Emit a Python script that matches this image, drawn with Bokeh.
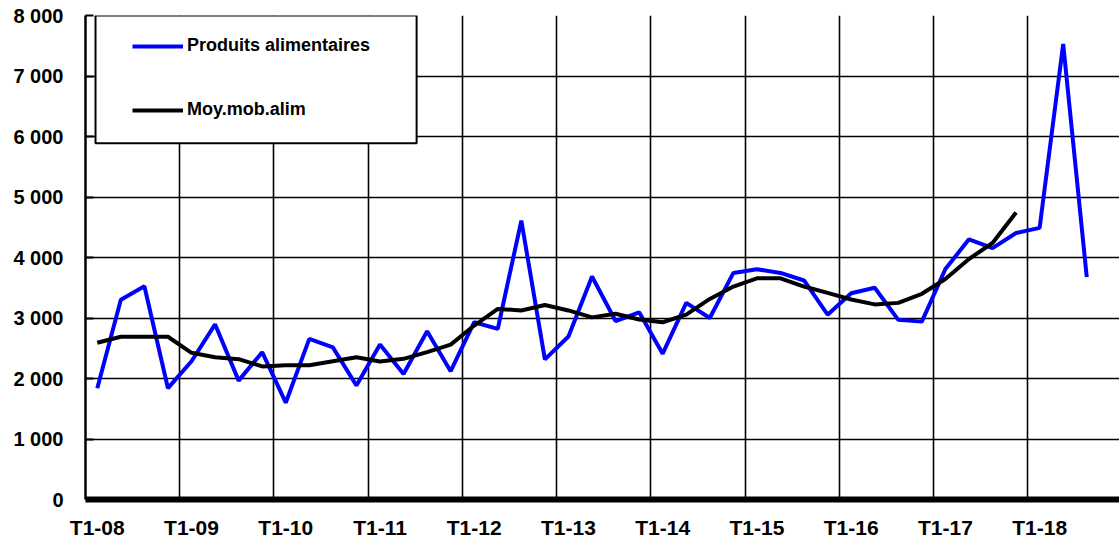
from bokeh.plotting import figure
from bokeh.models import (Range1d, FixedTicker, Legend, LegendItem, BoxAnnotation,
                          ColumnDataSource)
from bokeh.embed import file_html
from bokeh.resources import INLINE

# ---- data ----
quarters_years = ["08", "09", "10", "11", "12", "13", "14", "15", "16", "17", "18"]
x_labels = ["T1-" + y for y in quarters_years]

produits_alimentaires = [
    1840, 3300, 3525, 1840, 2285, 2895, 1965, 2435, 1600, 2655, 2515,
    1885, 2560, 2075, 2780, 2120, 2930, 2820, 4610, 2315, 2695, 3685,
    2950, 3095, 2410, 3250, 3000, 3745, 3805, 3745, 3620, 3055, 3410,
    3500, 2970, 2940, 3810, 4300, 4155, 4405, 4490, 7530, 3675,
]
moy_mob_alim = [
    2590, 2690, 2690, 2690, 2425, 2350, 2320, 2200, 2220, 2220, 2285,
    2350, 2280, 2325, 2435, 2560, 2875, 3150, 3125, 3215, 3125, 3010,
    3070, 2975, 2930, 3055, 3315, 3520, 3655, 3655, 3520, 3415, 3305,
    3225, 3250, 3400, 3645, 3975, 4240, 4745,
]
y_ticks = [0, 1000, 2000, 3000, 4000, 5000, 6000, 7000, 8000]
y_tick_labels = ["0", "1 000", "2 000", "3 000", "4 000", "5 000", "6 000", "7 000", "8 000"]
series_names = ["Produits alimentaires", "Moy.mob.alim"]

# ---- figure ----
FONT = "Liberation Sans"
p = figure(width=1119, height=545, output_backend="svg", toolbar_location=None,
           x_range=Range1d(-0.5, 43.39), y_range=Range1d(0, 8000),
           min_border_left=85, min_border_right=0, min_border_top=15, min_border_bottom=46)
p.outline_line_color = None
p.background_fill_color = "white"
p.border_fill_color = "white"

src_a = ColumnDataSource(dict(x=list(range(len(produits_alimentaires))), y=produits_alimentaires))
src_b = ColumnDataSource(dict(x=list(range(len(moy_mob_alim))), y=moy_mob_alim))

r_a = p.line("x", "y", source=src_a, line_color="#0000FF", line_width=4)
r_b = p.line("x", "y", source=src_b, line_color="black", line_width=4)

# grids
p.xgrid.ticker = FixedTicker(ticks=[3.5 + 4 * k for k in range(10)])
p.ygrid.ticker = FixedTicker(ticks=y_ticks[1:])
for g in (p.xgrid, p.ygrid):
    g.grid_line_color = "black"
    g.grid_line_width = 1.6
    g.grid_line_alpha = 1.0

# x axis
xa = p.xaxis[0]
xa.ticker = FixedTicker(ticks=[4 * k for k in range(len(x_labels))])
xa.major_label_overrides = {4 * k: lab for k, lab in enumerate(x_labels)}
xa.axis_line_width = 6
xa.axis_line_color = "black"
xa.major_tick_line_color = None
xa.minor_tick_line_color = None
xa.major_label_standoff = 10
xa.major_label_text_font = FONT
xa.major_label_text_font_style = "bold"
xa.major_label_text_font_size = "21px"
xa.major_label_text_color = "black"

# y axis
ya = p.yaxis[0]
ya.ticker = FixedTicker(ticks=y_ticks)
ya.major_label_overrides = {t: lab for t, lab in zip(y_ticks, y_tick_labels)}
ya.axis_line_width = 2.5
ya.axis_line_color = "black"
ya.major_tick_in = 8
ya.major_tick_out = 0
ya.major_tick_line_width = 2
ya.major_tick_line_color = "black"
ya.minor_tick_line_color = None
ya.major_label_standoff = 22
ya.major_label_text_font = FONT
ya.major_label_text_font_style = "bold"
ya.major_label_text_font_size = "20px"
ya.major_label_text_color = "black"

# legend frame
box = BoxAnnotation(left=-0.075, right=13.555, bottom=5890, top=8000,
                    fill_color="white", fill_alpha=1.0,
                    line_color="black", line_width=2, line_alpha=1.0)
p.add_layout(box)

legend = Legend(items=[LegendItem(label=series_names[0], renderers=[r_a]),
                       LegendItem(label=series_names[1], renderers=[r_b])],
                location=(47, 379), orientation="vertical",
                padding=0, margin=0, spacing=43,
                glyph_width=51, glyph_height=20, label_height=20, label_standoff=4,
                border_line_color=None, background_fill_alpha=0.0,
                label_text_font=FONT, label_text_font_style="bold",
                label_text_font_size="18px", label_text_color="black")
p.add_layout(legend)

open("out.html", "w").write(file_html(p, INLINE))
